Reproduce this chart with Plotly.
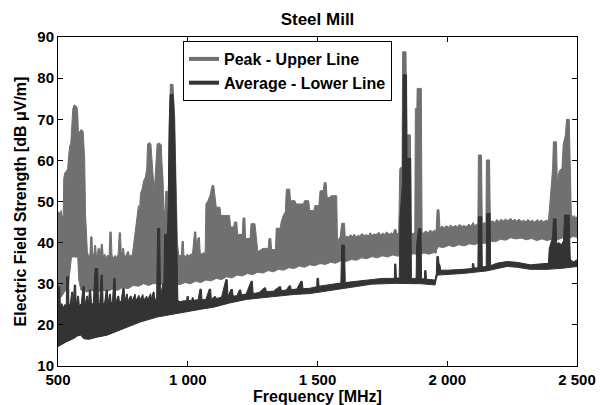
import plotly.graph_objects as go

# ---------------- data ----------------
TITLE = "Steel Mill"
X_TITLE = "Frequency [MHz]"
Y_TITLE = "Electric Field Strength [dB \u03bcV/m]"
SERIES_NAMES = ["Peak - Upper Line", "Average - Lower Line"]
X_TICK_VALUES = [500, 1000, 1500, 2000, 2500]
X_TICK_LABELS = ["500", "1 000", "1 500", "2 000", "2 500"]
Y_TICK_VALUES = [10, 20, 30, 40, 50, 60, 70, 80, 90]

# Peak detector trace: upper edge of the noisy band (frequency MHz, dB uV/m)
PEAK_UPPER = [
    (500, 44.0), (502, 47.5), (508, 47.0), (512, 47.8), (516, 46.5), (520, 46.0), (522, 55.5),
    (526, 57.0), (532, 57.3), (537, 58.0), (541, 61.0), (545, 63.5), (549, 64.0), (553, 69.0),
    (557, 72.5), (562, 73.5), (568, 73.3), (573, 73.0), (576, 71.5), (579, 66.0), (583, 67.0),
    (590, 67.5), (597, 67.0), (600, 63.0), (603, 60.0), (606, 47.0), (609, 42.0), (613, 38.0),
    (618, 36.5), (623, 37.0), (626, 41.4), (631, 41.4), (633, 37.5), (638, 36.8), (641, 39.3),
    (645, 39.3), (648, 36.6), (652, 37.2), (655, 38.6), (659, 38.6), (662, 36.5), (667, 39.6),
    (671, 39.6), (674, 36.8), (680, 37.2), (686, 36.3), (692, 37.0), (697, 36.6), (700, 42.6),
    (705, 42.6), (708, 37.0), (714, 36.2), (720, 36.9), (726, 36.4), (732, 37.2), (736, 42.4),
    (741, 42.4), (744, 36.8), (749, 38.6), (753, 38.6), (756, 36.5), (762, 36.9), (768, 37.8),
    (772, 37.8), (775, 36.6), (781, 37.0), (786, 36.8), (790, 39.0), (795, 42.0), (800, 44.0),
    (805, 47.0), (810, 49.0), (814, 47.5), (818, 52.0), (824, 53.0), (830, 55.0), (837, 56.0),
    (842, 58.0), (845, 64.0), (852, 64.3), (858, 64.0), (862, 60.5), (866, 56.0), (870, 53.0),
    (874, 55.5), (878, 61.0), (882, 64.0), (890, 64.2), (898, 63.8), (901, 59.0), (905, 55.0),
    (908, 48.0), (912, 47.5), (915, 52.5), (921, 52.5), (924, 48.0), (927, 62.0), (930, 70.0),
    (933, 78.5), (943, 78.5), (946, 74.0), (950, 70.0), (953, 60.0), (957, 47.0), (960, 40.0),
    (965, 37.0), (972, 36.8), (976, 37.2), (978, 40.3), (983, 40.3), (985, 37.0), (992, 36.6),
    (998, 37.2), (1005, 36.8), (1012, 37.3), (1018, 37.0), (1022, 41.0), (1026, 42.6), (1031, 42.6),
    (1034, 39.0), (1040, 41.2), (1045, 41.2), (1048, 37.5), (1055, 37.2), (1062, 37.6), (1067, 37.3),
    (1070, 49.4), (1078, 50.2), (1086, 51.5), (1094, 53.9), (1100, 53.9), (1104, 51.5), (1110, 48.6),
    (1124, 48.6), (1128, 46.6), (1161, 46.6), (1165, 43.8), (1177, 43.8), (1180, 45.0), (1189, 45.0),
    (1192, 42.0), (1210, 42.0), (1213, 46.0), (1220, 46.0), (1223, 41.0), (1240, 41.0), (1244, 44.6),
    (1259, 44.6), (1264, 40.5), (1270, 37.8), (1280, 38.2), (1290, 38.6), (1310, 38.6), (1313, 41.0),
    (1320, 41.0), (1323, 38.3), (1338, 38.3), (1341, 43.5), (1356, 43.5), (1360, 45.0), (1368, 46.6),
    (1376, 47.5), (1380, 53.0), (1393, 53.0), (1396, 50.2), (1413, 50.2), (1418, 49.4), (1446, 49.4),
    (1450, 50.2), (1466, 50.2), (1470, 47.8), (1486, 47.8), (1490, 49.0), (1505, 49.0), (1510, 52.6),
    (1522, 52.6), (1526, 54.6), (1533, 54.6), (1537, 51.0), (1548, 51.0), (1552, 51.4), (1574, 51.4),
    (1577, 40.3), (1583, 41.0), (1588, 41.5), (1593, 44.7), (1604, 44.7), (1607, 41.2), (1612, 41.6),
    (1621, 41.3), (1626, 41.9), (1637, 41.5), (1641, 42.1), (1648, 41.4), (1659, 41.8), (1664, 41.5),
    (1670, 42.2), (1682, 41.7), (1688, 42.0), (1697, 41.6), (1702, 42.4), (1713, 41.8), (1719, 42.2),
    (1725, 41.9), (1737, 42.5), (1742, 41.9), (1754, 42.3), (1759, 42.0), (1766, 42.6), (1778, 42.0),
    (1784, 42.4), (1791, 42.1), (1797, 43.2), (1802, 43.2), (1807, 42.0), (1813, 42.5), (1817, 58.0),
    (1826, 58.5), (1828, 86.4), (1841, 86.4), (1844, 66.2), (1858, 66.2), (1861, 42.5), (1868, 42.1),
    (1875, 42.6), (1877, 72.6), (1883, 72.6), (1884, 77.5), (1900, 77.5), (1903, 42.6), (1909, 42.3),
    (1916, 42.8), (1928, 42.4), (1933, 43.0), (1945, 42.6), (1951, 43.1), (1957, 42.7), (1961, 48.0),
    (1968, 48.0), (1972, 43.4), (1978, 44.0), (1990, 43.6), (1995, 44.1), (2007, 43.7), (2013, 44.3),
    (2021, 43.8), (2033, 44.2), (2038, 43.7), (2047, 44.4), (2059, 43.9), (2064, 44.2), (2073, 43.8),
    (2084, 44.5), (2090, 44.0), (2100, 44.9), (2106, 44.1), (2114, 44.5), (2118, 44.2), (2120, 61.3),
    (2132, 61.3), (2135, 44.4), (2142, 44.9), (2149, 44.5), (2151, 60.1), (2163, 60.1), (2166, 44.8),
    (2173, 45.3), (2185, 44.9), (2190, 45.6), (2201, 45.1), (2207, 45.7), (2219, 45.2), (2224, 45.8),
    (2232, 45.3), (2245, 45.9), (2250, 45.3), (2261, 45.7), (2267, 45.2), (2276, 45.7), (2288, 45.1),
    (2293, 45.5), (2304, 45.0), (2310, 45.6), (2322, 45.1), (2327, 45.5), (2336, 45.0), (2348, 45.6),
    (2353, 45.1), (2364, 45.5), (2371, 45.0), (2382, 45.5), (2390, 45.2), (2394, 48.0), (2400, 52.5),
    (2406, 58.0), (2409, 64.5), (2421, 64.5), (2424, 55.0), (2432, 57.5), (2442, 58.0), (2447, 64.0),
    (2455, 66.0), (2460, 70.0), (2470, 70.0), (2474, 60.0), (2478, 47.0), (2484, 46.0), (2490, 46.6),
    (2495, 45.9), (2500, 46.3),
]

# Peak detector trace: lower edge of the noisy band
PEAK_LOWER = [
    (500, 26.0), (515, 27.0), (530, 28.5), (540, 30.0), (546, 33.0), (552, 36.5), (576, 36.5),
    (580, 31.0), (588, 28.5), (610, 28.0), (630, 28.4), (650, 27.9), (670, 28.5), (690, 28.1),
    (710, 28.7), (730, 28.4), (750, 29.1), (770, 28.8), (790, 29.6), (810, 29.4), (830, 30.0),
    (850, 29.6), (870, 30.1), (890, 29.8), (910, 30.0), (930, 29.6), (950, 29.9), (970, 29.8),
    (990, 30.3), (1010, 30.0), (1030, 30.6), (1050, 30.3), (1070, 30.9), (1090, 30.7), (1110, 31.3),
    (1130, 31.0), (1150, 31.7), (1170, 31.4), (1190, 32.1), (1210, 31.9), (1230, 32.5), (1250, 32.2),
    (1270, 32.8), (1290, 32.6), (1310, 33.2), (1330, 32.9), (1350, 33.5), (1370, 33.3), (1390, 33.9),
    (1410, 33.7), (1430, 34.3), (1450, 34.0), (1470, 34.6), (1490, 34.4), (1510, 34.9), (1530, 34.7),
    (1550, 35.2), (1570, 35.0), (1590, 35.6), (1610, 35.4), (1630, 35.9), (1650, 35.7), (1670, 36.3),
    (1690, 36.1), (1710, 36.6), (1730, 36.3), (1750, 36.8), (1770, 36.5), (1790, 37.0), (1810, 36.7),
    (1830, 37.2), (1850, 36.9), (1870, 37.3), (1890, 37.0), (1910, 37.5), (1930, 37.2), (1950, 37.6),
    (1957, 37.4), (1960, 38.4), (1966, 39.0), (1985, 38.8), (2005, 39.3), (2025, 39.0), (2045, 39.5),
    (2065, 39.2), (2085, 39.7), (2105, 39.5), (2125, 40.0), (2145, 39.8), (2165, 40.4), (2185, 40.2),
    (2205, 40.8), (2225, 40.6), (2245, 41.2), (2265, 40.9), (2285, 41.1), (2305, 40.7), (2325, 41.0),
    (2345, 40.5), (2365, 40.9), (2385, 40.5), (2405, 40.9), (2425, 40.7), (2445, 41.2), (2465, 41.0),
    (2485, 41.5), (2500, 41.3),
]

# Average detector trace: upper edge (with spikes)
AVG_UPPER = [
    (500, 24.0), (501, 29.3), (507, 29.3), (509, 24.6), (515, 25.2), (521, 24.2), (527, 25.0),
    (532, 24.4), (533, 31.7), (541, 31.7), (542, 24.8), (548, 25.3), (553, 28.0), (556, 28.0),
    (558, 24.6), (563, 29.7), (568, 29.7), (570, 24.8), (576, 27.0), (579, 27.0), (582, 24.7),
    (590, 25.2), (596, 29.3), (601, 29.3), (604, 24.6), (611, 27.0), (614, 27.0), (617, 24.8),
    (621, 28.5), (626, 28.5), (629, 24.9), (636, 25.3), (643, 33.7), (653, 33.7), (656, 25.0),
    (661, 25.4), (666, 32.1), (671, 32.1), (674, 25.0), (680, 25.5), (686, 28.5), (690, 28.5),
    (693, 25.2), (699, 27.5), (702, 27.5), (705, 25.3), (710, 25.7), (715, 31.3), (720, 31.3),
    (723, 25.4), (731, 27.0), (734, 27.0), (737, 25.5), (744, 25.9), (750, 28.9), (755, 28.9),
    (758, 25.6), (764, 27.5), (767, 27.5), (770, 25.7), (779, 27.0), (782, 27.0), (785, 25.8),
    (794, 27.5), (797, 27.5), (800, 25.9), (809, 27.2), (812, 27.2), (815, 26.0), (824, 27.4),
    (827, 27.4), (830, 26.0), (839, 27.0), (842, 27.0), (845, 26.1), (854, 27.6), (857, 27.6),
    (860, 26.2), (867, 28.0), (870, 28.0), (873, 26.2), (880, 26.5), (884, 43.5), (892, 43.5),
    (895, 27.0), (898, 28.0), (904, 30.0), (908, 30.0), (911, 42.0), (922, 42.0), (925, 50.0),
    (928, 68.0), (932, 76.0), (943, 76.0), (947, 72.0), (951, 62.0), (955, 48.0), (959, 30.0),
    (962, 26.0), (970, 25.6), (980, 25.8), (996, 25.9), (997, 26.9), (1002, 26.9), (1004, 25.9),
    (1016, 26.0), (1017, 26.6), (1021, 26.6), (1023, 26.0), (1040, 26.1), (1047, 28.7), (1052, 28.7),
    (1055, 26.1), (1070, 26.2), (1083, 28.7), (1088, 28.7), (1091, 26.2), (1103, 26.9), (1107, 26.9),
    (1110, 26.4), (1130, 26.7), (1147, 31.0), (1152, 31.0), (1155, 26.9), (1166, 28.6), (1172, 28.6),
    (1175, 27.0), (1190, 27.1), (1199, 28.5), (1204, 28.5), (1207, 27.3), (1225, 27.5), (1244, 30.6),
    (1249, 30.6), (1252, 27.6), (1275, 27.9), (1295, 29.0), (1300, 29.0), (1303, 28.1), (1330, 28.2),
    (1353, 29.3), (1358, 29.3), (1361, 28.3), (1380, 28.5), (1391, 29.5), (1396, 29.5), (1399, 28.6),
    (1420, 28.7), (1436, 30.6), (1441, 30.6), (1444, 28.8), (1470, 28.9), (1497, 29.3), (1498, 31.3),
    (1504, 31.3), (1506, 29.4), (1550, 29.8), (1590, 30.2), (1593, 39.4), (1604, 39.4), (1607, 30.3),
    (1644, 30.6), (1709, 31.1), (1750, 31.3), (1796, 31.3), (1797, 34.8), (1802, 34.8), (1804, 31.4),
    (1815, 31.4), (1818, 46.0), (1822, 49.6), (1828, 55.0), (1830, 80.8), (1843, 80.8), (1845, 60.5),
    (1859, 60.5), (1862, 31.3), (1880, 31.3), (1882, 39.4), (1889, 43.4), (1899, 43.4), (1901, 31.2),
    (1912, 31.2), (1913, 33.2), (1918, 33.2), (1920, 31.1), (1953, 30.9), (1958, 32.5), (1960, 36.6),
    (1966, 36.6), (1968, 35.0), (1972, 34.5), (1975, 33.3), (2000, 33.3), (2060, 33.5), (2096, 33.7),
    (2097, 34.9), (2102, 34.9), (2104, 33.8), (2118, 33.9), (2120, 46.3), (2133, 46.3), (2135, 34.1),
    (2150, 34.2), (2152, 47.1), (2165, 47.1), (2167, 34.4), (2191, 35.0), (2230, 35.4), (2270, 35.2),
    (2320, 34.6), (2384, 34.8), (2390, 35.0), (2393, 38.5), (2400, 40.0), (2406, 41.4), (2409, 45.8),
    (2419, 45.8), (2422, 39.7), (2430, 40.0), (2440, 39.5), (2448, 40.5), (2452, 46.7), (2470, 46.7),
    (2474, 36.0), (2485, 35.3), (2500, 35.8),
]

# Average detector trace: lower edge
AVG_LOWER = [
    (500, 14.7), (530, 15.8), (561, 16.7), (575, 17.3), (587, 17.5), (600, 16.6), (620, 16.5),
    (650, 17.0), (689, 17.5), (720, 18.2), (753, 19.1), (785, 19.9), (817, 20.7), (850, 21.3),
    (882, 21.9), (915, 22.3), (946, 22.7), (997, 23.2), (1050, 23.8), (1100, 24.3), (1160, 25.3),
    (1227, 26.2), (1290, 26.6), (1356, 27.0), (1410, 27.4), (1470, 27.6), (1550, 28.5), (1644, 29.3),
    (1709, 29.9), (1800, 30.1), (1900, 30.0), (1953, 29.7), (1958, 31.2), (1962, 32.1), (2060, 32.5),
    (2150, 33.1), (2191, 33.7), (2230, 34.2), (2270, 34.0), (2320, 33.5), (2384, 33.5), (2450, 33.8),
    (2500, 34.2),
]

GRAY = "#707070"
DARK = "#333333"


def band_polygon(upper, lower):
    xs = [p[0] for p in upper] + [p[0] for p in reversed(lower)]
    ys = [p[1] for p in upper] + [p[1] for p in reversed(lower)]
    return xs, ys


fig = go.Figure()
for (upper, lower), color in (((PEAK_UPPER, PEAK_LOWER), GRAY), ((AVG_UPPER, AVG_LOWER), DARK)):
    xs, ys = band_polygon(upper, lower)
    fig.add_trace(go.Scatter(
        x=xs, y=ys, mode="lines", fill="toself", fillcolor=color,
        line=dict(color=color, width=1), showlegend=False, hoverinfo="skip",
    ))

# legend entries (no data, only the line key)
for name, color in zip(SERIES_NAMES, (GRAY, DARK)):
    fig.add_trace(go.Scatter(x=[None], y=[None], mode="lines", name=name,
                             line=dict(color=color, width=4)))

FONT = "Liberation Sans, Arial, Helvetica, sans-serif"
axis_common = dict(
    showline=True, linecolor="black", linewidth=1, mirror="ticks",
    ticks="inside", ticklen=5, tickcolor="black", tickwidth=1,
    showgrid=False, zeroline=False, automargin=False,
    tickfont=dict(family=FONT, size=15, color="black", weight="bold"),
)

fig.update_layout(
    template="none",
    width=601, height=405,
    margin=dict(l=58, r=24, t=37, b=39, autoexpand=False),
    plot_bgcolor="white", paper_bgcolor="white",
    font=dict(family=FONT, size=15, color="black", weight="bold"),
    title=dict(text=TITLE, x=0.5, xref="paper", xanchor="center",
               y=1 - 19 / 405, yref="container", yanchor="middle",
               font=dict(family=FONT, size=17, color="black", weight="bold")),
    xaxis=dict(range=[500, 2500], tickvals=X_TICK_VALUES, ticktext=X_TICK_LABELS,
               title=dict(text=X_TITLE, standoff=4,
                          font=dict(family=FONT, size=16, color="black", weight="bold")),
               **axis_common),
    yaxis=dict(range=[10, 90], tickvals=Y_TICK_VALUES,
               title=dict(text=Y_TITLE, standoff=6,
                          font=dict(family=FONT, size=16, color="black", weight="bold")),
               **axis_common),
    legend=dict(x=(183 - 58) / 519, y=(366 - 41) / 329, xanchor="left", yanchor="top",
                bgcolor="white", bordercolor="black", borderwidth=1,
                font=dict(family=FONT, size=16, color="black", weight="bold"),
                tracegroupgap=0, itemwidth=30),
    showlegend=True,
)

fig.write_html("out.html")
